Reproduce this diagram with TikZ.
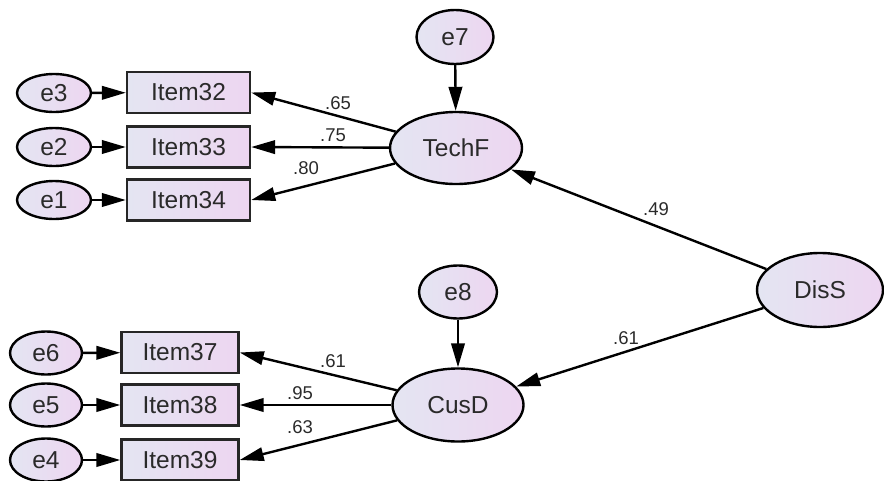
\documentclass[tikz,border=0pt]{standalone}
\usepackage{fontspec}
\setmainfont{Liberation Sans}
\usetikzlibrary{arrows.meta,shapes.geometric}
\definecolor{fillL}{HTML}{E4E5F2}
\definecolor{fillR}{HTML}{EDD6F1}
\definecolor{txt}{HTML}{2A2A2A}
\tikzset{
  latent/.style={ellipse, draw=black, line width=2.4pt, left color=fillL, right color=fillR,
    inner sep=0pt, text=txt, font=\fontsize{24.5}{26}\selectfont},
  errvar/.style={latent},
  item/.style={rectangle, draw=black!85, line width=2.4pt, left color=fillL, right color=fillR,
    inner sep=0pt, minimum height=41pt, text=txt, font=\fontsize{24.5}{26}\selectfont},
  path/.style={line width=2.4pt, -{Triangle[length=24pt,width=13.5pt]}},
  coef/.style={text=txt, font=\fontsize{18.5}{20}\selectfont, inner sep=0pt}
}
\begin{document}
\begin{tikzpicture}[x=1pt,y=-1pt]
\useasboundingbox (0,0) rectangle (884,480);

% TechF block
\node[errvar, minimum width=74pt, minimum height=38pt] (e3) at (54,93) {e3};
\node[errvar, minimum width=74pt, minimum height=38pt] (e2) at (54,147) {e2};
\node[errvar, minimum width=74pt, minimum height=38pt] (e1) at (54,200) {e1};
\node[item, minimum width=123pt] (i32) at (188.5,92.5) {Item32};
\node[item, minimum width=123pt] (i33) at (188.5,147) {Item33};
\node[item, minimum width=123pt] (i34) at (188.5,200) {Item34};
\node[errvar, minimum width=77pt, minimum height=54pt] (e7) at (455,37) {e7};
\node[latent, minimum width=132pt, minimum height=72pt] (techf) at (456,148) {TechF};

% CusD block
\node[errvar, minimum width=72pt, minimum height=43pt] (e6) at (46,353) {e6};
\node[errvar, minimum width=72pt, minimum height=43pt] (e5) at (46,405) {e5};
\node[errvar, minimum width=72pt, minimum height=43pt] (e4) at (46,460) {e4};
\node[item, minimum width=117pt] (i37) at (180,352.5) {Item37};
\node[item, minimum width=117pt] (i38) at (180,405) {Item38};
\node[item, minimum width=117pt] (i39) at (180,460) {Item39};
\node[errvar, minimum width=78pt, minimum height=53pt] (e8) at (458,292) {e8};
\node[latent, minimum width=131pt, minimum height=73pt] (cusd) at (458,405) {CusD};

% Exogenous factor
\node[latent, minimum width=126pt, minimum height=74pt] (diss) at (820,290) {DisS};

% Error terms
\draw[path] (e3) -- (i32);
\draw[path] (e2) -- (i33);
\draw[path] (e1) -- (i34);
\draw[path] (e6) -- (i37);
\draw[path] (e5) -- (i38);
\draw[path] (e4) -- (i39);
\draw[path] (e7) -- (techf);
\draw[path] (e8) -- (cusd);

% Loadings
\draw[path] (techf) -- (i32.east);
\draw[path] (techf) -- (i33.east);
\draw[path] (techf) -- (i34.east);
\draw[path] (cusd) -- (i37.east);
\draw[path] (cusd) -- (i38.east);
\draw[path] (cusd) -- (i39.east);

% Structural paths
\draw[path] (diss) -- (techf);
\draw[path] (diss) -- (cusd);

% Coefficients
\node[coef] (c65) at (338,103) {.65};
\node[coef] (c75) at (333,135) {.75};
\node[coef] (c80) at (306,168) {.80};
\node[coef] (c49) at (656,209) {.49};
\node[coef] (c61a) at (333,361) {.61};
\node[coef] (c95) at (300,393) {.95};
\node[coef] (c63) at (300,427) {.63};
\node[coef] (c61b) at (626,338) {.61};
\end{tikzpicture}
\end{document}
